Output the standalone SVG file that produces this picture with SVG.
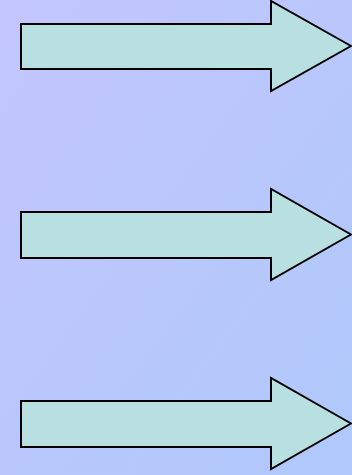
<svg xmlns="http://www.w3.org/2000/svg" width="352" height="475" viewBox="0 0 352 475">
<defs>
<linearGradient id="bg" x1="0" y1="0" x2="1" y2="1">
<stop offset="0" stop-color="#c3c6fd"/>
<stop offset="1" stop-color="#afc8fb"/>
</linearGradient>
<style>.arr{fill:#b8e0e0;stroke:#000;stroke-width:2;stroke-linejoin:miter}</style>
</defs>
<rect width="352" height="475" fill="url(#bg)"/>
<g id="arrow1"><path class="arr" d="M21,24 H271 V1 L351,46 L271,91 V69 H21 Z"/></g>
<g id="arrow2"><path class="arr" d="M21,212 H271 V189 L351,234.5 L271,280 V258 H21 Z"/></g>
<g id="arrow3"><path class="arr" d="M21,401 H271 V378 L351,423.5 L271,469 V447 H21 Z"/></g>
<g id="connectors"></g>
</svg>
